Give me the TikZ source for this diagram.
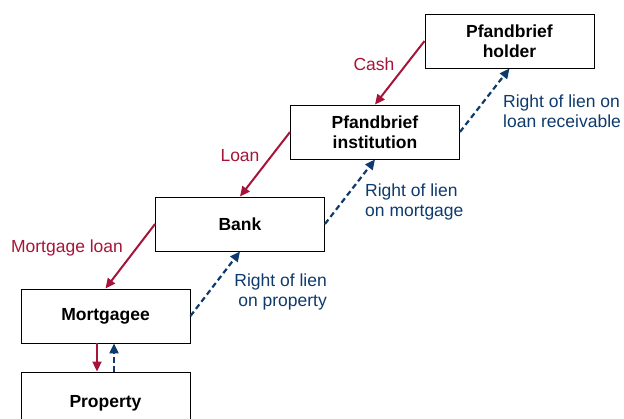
\documentclass[tikz,border=0pt]{standalone}
\usepackage{fontspec}
\setmainfont{Liberation Sans}
\usepackage{tikz}
\usetikzlibrary{arrows.meta,positioning}

\definecolor{cashred}{RGB}{166,20,58}
\definecolor{lienblue}{RGB}{14,58,108}

\begin{document}
\begin{tikzpicture}[x=1pt,y=-1pt,>={Triangle[length=10pt,width=9pt]},
  party/.style={draw=black,line width=0.9pt,minimum width=169pt,minimum height=54pt,
    align=center,font=\fontsize{17.5}{20.5}\selectfont\bfseries},
  money/.style={->,draw=cashred,line width=2pt},
  lien/.style={->,draw=lienblue,line width=2.2pt,dash pattern=on 5.5pt off 3.5pt},
  moneytxt/.style={text=cashred,inner sep=0pt,font=\fontsize{17.5}{20.5}\selectfont},
  lientxt/.style={text=lienblue,inner sep=0pt,font=\fontsize{17.5}{20.5}\selectfont}]
  \useasboundingbox (0,0) rectangle (624,419);

  % the chain of parties
  \node[party] (holder) at (509.5,41) {Pfandbrief\\holder};
  \node[party] (inst) at (375,132) {Pfandbrief\\institution};
  \node[party] (bank) at (240,224) {Bank};
  \node[party] (mortgagee) at (105.5,316) {Mortgagee};
  \node[party,minimum height=62pt] (property) at (105.5,403) {Property};

  % money flows down
  \draw[money] (holder.west) -- (inst.north);
  \draw[money] (inst.west) -- (bank.north);
  \draw[money] (bank.west) -- (mortgagee.north);
  \draw[money] ([xshift=-8.5pt]mortgagee.south) -- ([xshift=-8.5pt]property.north);

  % liens go up
  \draw[lien] (mortgagee.east) -- (bank.south);
  \draw[lien] (bank.east) -- (inst.south);
  \draw[lien] (inst.east) -- (holder.south);
  \draw[lien] ([xshift=8.5pt]property.north) -- ([xshift=8.5pt]mortgagee.south);

  \node[moneytxt] (cash) at (374,64) {Cash};
  \node[moneytxt] (loan) at (240,156) {Loan};
  \node[moneytxt] (mloan) at (67,248) {Mortgage loan};

  \node[lientxt,anchor=west,align=left] (lienrec) at (503,111) {Right of lien on\\loan receivable};
  \node[lientxt,anchor=west,align=left] (lienmort) at (365,202) {Right of lien\\on mortgage};
  \node[lientxt,anchor=east,align=right] (lienprop) at (327,292) {Right of lien\\on property};
\end{tikzpicture}
\end{document}
